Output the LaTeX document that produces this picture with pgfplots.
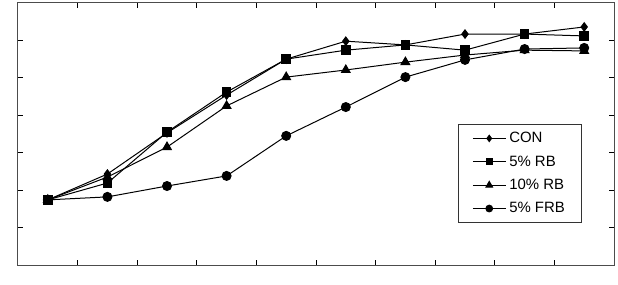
\documentclass[border=0pt]{standalone}
\usepackage{pgfplots}
\pgfplotsset{compat=1.18}
\usepackage{fontspec}
\setmainfont{Liberation Sans}
\begin{document}
\begin{tikzpicture}
\begin{axis}[
  at={(0,0)}, anchor=south west,
  scale only axis, width=596bp, height=262bp,
  xmin=0, xmax=10, ymin=0, ymax=7,
  xtick={1,2,...,9}, ytick={1,2,...,6},
  xticklabels={}, yticklabels={},
  tick align=inside, major tick length=5bp,
  tick style={black, line width=0.8bp},
  axis line style={black!70, line width=1bp},
  every axis plot/.append style={black, line width=1bp, mark options={solid,fill=black}},
  legend style={at={(0.738,0.538)}, anchor=north west, draw=black!80, line width=0.8bp,
     font=\fontsize{15}{17}\selectfont, row sep=7.5bp, inner xsep=14bp, inner ysep=6bp,
     legend cell align=left, nodes={inner xsep=3bp}},
  legend image code/.code={\draw[mark repeat=2,mark phase=2,mark options={scale=0.75}] plot coordinates {(0bp,0bp) (16.5bp,0bp) (33bp,0bp)};},
]
\addplot[mark=diamond*, mark size=4.2pt] coordinates {
(0.5,1.74) (1.5,2.43) (2.5,3.53) (3.5,4.54) (4.5,5.50) (5.5,5.98) (6.5,5.88) (7.5,6.17) (8.5,6.17) (9.5,6.36)};
\addlegendentry{CON}
\addplot[mark=square*, mark size=4.3pt] coordinates {
(0.5,1.74) (1.5,2.19) (2.5,3.55) (3.5,4.62) (4.5,5.50) (5.5,5.74) (6.5,5.88) (7.5,5.74) (8.5,6.17) (9.5,6.12)};
\addlegendentry{5\% RB}
\addplot[mark=triangle*, mark size=5pt] coordinates {
(0.5,1.74) (1.5,2.35) (2.5,3.15) (3.5,4.25) (4.5,5.02) (5.5,5.21) (6.5,5.42) (7.5,5.61) (8.5,5.74) (9.5,5.72)};
\addlegendentry{10\% RB}
\addplot[mark=*, mark size=4.5pt] coordinates {
(0.5,1.74) (1.5,1.82) (2.5,2.11) (3.5,2.38) (4.5,3.45) (5.5,4.22) (6.5,5.02) (7.5,5.48) (8.5,5.77) (9.5,5.80)};
\addlegendentry{5\% FRB}
\end{axis}
\path[use as bounding box] (-18bp,-20bp) rectangle (600bp,265bp);
\end{tikzpicture}
\end{document}
